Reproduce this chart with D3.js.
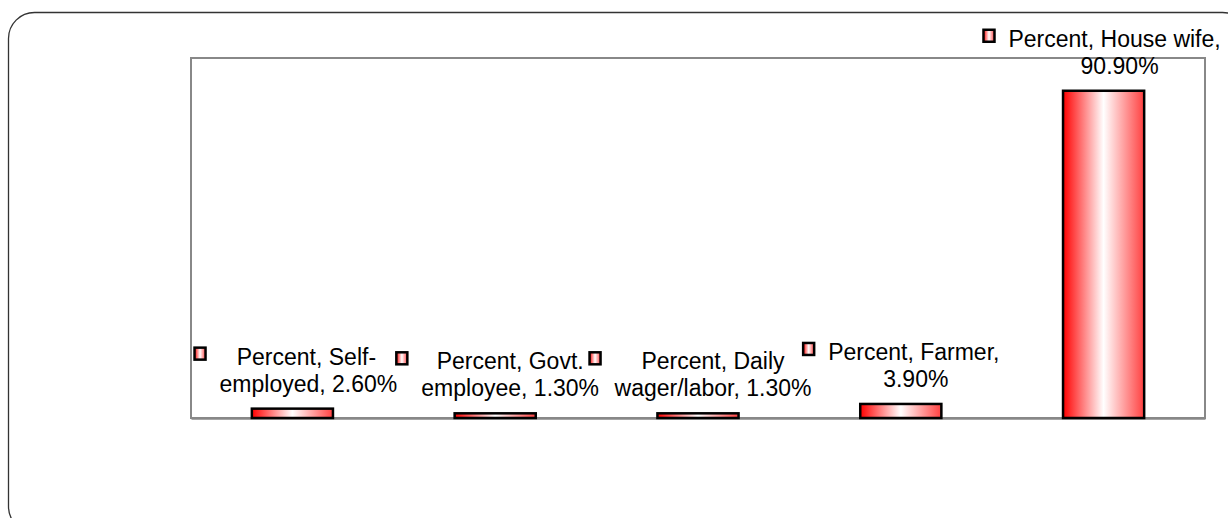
<!DOCTYPE html>
<html>
<head>
<meta charset="utf-8">
<script src="https://cdn.jsdelivr.net/npm/d3@7"></script>
<style>
  body { margin: 0; background: #fff; }
  text { font-family: "Liberation Sans", Arial, sans-serif; }
</style>
</head>
<body>
<div id="zone"></div>
<script>
(function() {
  "use strict";

  // données du graphique
  var categories = ["Self-employed", "Govt. employee", "Daily wager/labor", "Farmer", "House wife"];
  var values = [2.6, 1.3, 1.3, 3.9, 90.9];
  var labelLines = [
    ["Percent, Self-", "employed, 2.60%"],
    ["Percent, Govt.", "employee, 1.30%"],
    ["Percent, Daily", "wager/labor, 1.30%"],
    ["Percent, Farmer,", "3.90%"],
    ["Percent, House wife,", "90.90%"]
  ];

  // décalage horizontal de chaque ligne d'étiquette par rapport au centre de la barre
  var labelDx = [[14, 16], [15, 15], [15, 15], [13, 15], [11, 16]];

  var width = 1228, height = 518;
  var plot = { left: 191, top: 58, right: 1205, bottom: 418 };

  var svg = d3.select("#zone").append("svg")
    .attr("width", width)
    .attr("height", height);

  var defs = svg.append("defs");
  var grad = defs.append("linearGradient")
    .attr("id", "barGrad")
    .attr("x1", "0%").attr("x2", "100%")
    .attr("y1", "0%").attr("y2", "0%");
  grad.append("stop").attr("offset", "0%").attr("stop-color", "#ff0000");
  grad.append("stop").attr("offset", "50%").attr("stop-color", "#ffffff");
  grad.append("stop").attr("offset", "100%").attr("stop-color", "#ff4040");

  // cadre arrondi extérieur
  svg.append("rect")
    .attr("x", 8.5).attr("y", 12.5)
    .attr("width", 1240).attr("height", 520)
    .attr("rx", 26).attr("ry", 26)
    .attr("fill", "none")
    .attr("stroke", "#333")
    .attr("stroke-width", 1.3);

  var x = d3.scaleBand()
    .domain(categories)
    .range([plot.left, plot.right])
    .paddingInner(0.6)
    .paddingOuter(0.3);

  var y = d3.scaleLinear()
    .domain([0, 100])
    .range([plot.bottom, plot.top]);

  // zone de tracé
  svg.append("rect")
    .attr("x", plot.left).attr("y", plot.top)
    .attr("width", plot.right - plot.left)
    .attr("height", plot.bottom - plot.top)
    .attr("fill", "none")
    .attr("stroke", "#888")
    .attr("stroke-width", 2);

  // axe du bas (sans graduations)
  var xAxis = svg.append("g")
    .attr("transform", "translate(0," + plot.bottom + ")")
    .call(d3.axisBottom(x).tickSize(0).tickFormat(""));
  xAxis.select(".domain").attr("stroke", "#888").attr("stroke-width", 2.5);

  // barres
  svg.selectAll(".bar")
    .data(values)
    .enter().append("rect")
    .attr("class", "bar")
    .attr("x", function(d, i) { return x(categories[i]); })
    .attr("y", function(d) { return y(d); })
    .attr("width", x.bandwidth())
    .attr("height", function(d) { return y(0) - y(d); })
    .attr("fill", "url(#barGrad)")
    .attr("stroke", "#000")
    .attr("stroke-width", 2.5);

  // étiquettes
  var labels = svg.selectAll(".label")
    .data(values)
    .enter().append("g")
    .attr("class", "label");

  labels.each(function(d, i) {
    var g = d3.select(this);
    var cx = x(categories[i]) + x.bandwidth() / 2;
    var base = y(d) - 44;
    var minLeft = Infinity;
    labelLines[i].forEach(function(line, k) {
      var t = g.append("text")
        .attr("x", cx + labelDx[i][k])
        .attr("y", base + k * 27)
        .attr("text-anchor", "middle")
        .attr("font-size", "23px")
        .attr("fill", "#000")
        .text(line);
      var w = t.node().getComputedTextLength();
      minLeft = Math.min(minLeft, cx + labelDx[i][k] - w / 2);
    });
    // clé de légende
    g.append("rect")
      .attr("x", minLeft - 25)
      .attr("y", base - 17)
      .attr("width", 11)
      .attr("height", 12)
      .attr("fill", "url(#barGrad)")
      .attr("stroke", "#000")
      .attr("stroke-width", 2.5);
  });

})();
</script>
</body>
</html>
